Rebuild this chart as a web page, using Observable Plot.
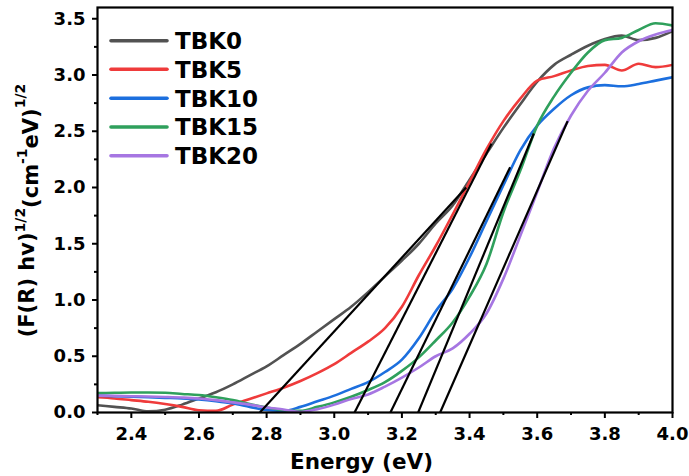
<!DOCTYPE html>
<html>
<head>
<meta charset="utf-8">
<script src="https://cdn.jsdelivr.net/npm/d3@7"></script>
<script src="https://cdn.jsdelivr.net/npm/@observablehq/plot@0.6"></script>
<style>
  html, body { margin: 0; padding: 0; background: white; }
  svg { display: block; }
</style>
</head>
<body>
<div id="chart"></div>
<script>
// ---- data ----
const energy = [2.30,2.35,2.40,2.45,2.50,2.55,2.60,2.65,2.70,2.75,2.80,2.85,2.90,2.95,3.00,3.05,3.10,3.15,3.20,3.25,3.30,3.35,3.40,3.45,3.50,3.55,3.60,3.65,3.70,3.75,3.80,3.85,3.90,3.95,4.00];
const seriesNames = ["TBK0","TBK5","TBK10","TBK15","TBK20"];
const seriesColors = ["#525252","#ef3b3b","#1c6fde","#2fa05c","#a676e2"];
const tbk0  = [0.065,0.05,0.035,0.01,0.025,0.07,0.125,0.18,0.25,0.33,0.41,0.51,0.61,0.72,0.83,0.94,1.07,1.21,1.35,1.50,1.68,1.84,2.07,2.30,2.53,2.74,2.94,3.09,3.18,3.26,3.32,3.35,3.31,3.33,3.39];
const tbk5  = [0.135,0.125,0.11,0.095,0.075,0.05,0.02,0.015,0.07,0.12,0.17,0.22,0.28,0.35,0.43,0.53,0.63,0.75,0.94,1.22,1.48,1.76,2.05,2.34,2.59,2.79,2.95,2.99,3.04,3.08,3.09,3.04,3.10,3.07,3.09];
const tbk10 = [0.15,0.145,0.14,0.135,0.13,0.125,0.115,0.10,0.08,0.05,0.022,0.015,0.05,0.10,0.15,0.21,0.27,0.36,0.47,0.66,0.90,1.10,1.38,1.70,2.02,2.33,2.55,2.70,2.82,2.89,2.91,2.90,2.92,2.95,2.98];
const tbk15 = [0.172,0.175,0.178,0.178,0.175,0.165,0.155,0.135,0.11,0.075,0.045,0.02,0.015,0.05,0.09,0.14,0.20,0.27,0.37,0.49,0.64,0.80,1.03,1.32,1.78,2.15,2.55,2.81,3.02,3.20,3.31,3.33,3.40,3.46,3.44];
const tbk20 = [0.15,0.148,0.145,0.142,0.138,0.133,0.125,0.11,0.09,0.07,0.045,0.027,0.005,0.03,0.07,0.12,0.16,0.23,0.31,0.40,0.50,0.57,0.70,0.88,1.19,1.57,1.96,2.35,2.64,2.86,3.02,3.20,3.30,3.36,3.40];
// tangent (Tauc extrapolation) lines
const tangentX1 = [2.78, 3.06, 3.166, 3.248, 3.313];
const tangentX2 = [3.39, 3.465, 3.52, 3.59, 3.69];
const tangentY2 = [2.00, 2.39, 2.18, 2.48, 2.59];
const xTicks = [2.4,2.6,2.8,3.0,3.2,3.4,3.6,3.8,4.0];
const xMinor = [2.3,2.5,2.7,2.9,3.1,3.3,3.5,3.7,3.9];
const yTicks = [0,0.5,1.0,1.5,2.0,2.5,3.0,3.5];
const yMinor = [0.25,0.75,1.25,1.75,2.25,2.75,3.25];

// ---- build tables ----
const allSeries = [tbk0, tbk5, tbk10, tbk15, tbk20];
const rows = [];
allSeries.forEach((vals, i) => vals.forEach((v, j) => rows.push({E: energy[j], v, s: seriesNames[i]})));
const tangents = tangentX1.map((x1, i) => ({x1, y1: 0, x2: tangentX2[i], y2: tangentY2[i]}));

const FONT = "DejaVu Sans, sans-serif";

const plot = Plot.plot({
  width: 689,
  height: 476,
  marginLeft: 97,
  marginRight: 17,
  marginTop: 7,
  marginBottom: 64,
  style: {fontFamily: FONT, fontWeight: "bold", fontSize: "18px", background: "white", color: "black"},
  x: {domain: [2.3, 4.0]},
  y: {domain: [0, 3.6]},
  color: {domain: seriesNames, range: seriesColors},
  marks: [
    Plot.line(rows, {x: "E", y: "v", z: "s", stroke: "s", strokeWidth: 2.6, curve: "monotone-x", clip: true}),
    Plot.link(tangents, {x1: "x1", y1: "y1", x2: "x2", y2: "y2", stroke: "black", strokeWidth: 2.2, clip: true}),
    Plot.axisX({ticks: xTicks, tickSize: 6, tickPadding: 9, strokeWidth: 2, tickFormat: d => d.toFixed(1), label: null}),
    Plot.axisX({ticks: xMinor, tickSize: 3, strokeWidth: 2, tickFormat: () => "", label: null}),
    Plot.axisY({ticks: yTicks, tickSize: 5, tickPadding: 7, strokeWidth: 2, tickFormat: d => d.toFixed(1), label: null}),
    Plot.axisY({ticks: yMinor, tickSize: 3, strokeWidth: 2, tickFormat: () => "", label: null}),
    Plot.frame({stroke: "black", strokeWidth: 2.2})
  ]
});

document.getElementById("chart").appendChild(plot);
const svg = d3.select(plot);

// x-axis title
svg.append("text")
  .attr("x", 361.5).attr("y", 469)
  .attr("text-anchor", "middle")
  .attr("font-family", FONT).attr("font-weight", "bold").attr("font-size", 21.5)
  .attr("fill", "black")
  .text("Energy (eV)");

// y-axis title with super/subscripts
const yl = svg.append("text")
  .attr("transform", "translate(34,210.5) rotate(-90)")
  .attr("text-anchor", "middle")
  .attr("font-family", FONT).attr("font-weight", "bold").attr("font-size", 21)
  .attr("fill", "black");
yl.append("tspan").text("(F(R) hv)");
yl.append("tspan").attr("font-size", 14).attr("dy", -9).text("1/2");
yl.append("tspan").attr("dy", 13).text("(cm");
yl.append("tspan").attr("font-size", 14).attr("dy", -11).text("-1");
yl.append("tspan").attr("dy", 11).text("eV)");
yl.append("tspan").attr("font-size", 14).attr("dy", -13).text("1/2");

// legend
const legendY = [40.7, 69.3, 98.3, 127, 155.7];
const lg = svg.append("g").attr("text-anchor", "start");
seriesNames.forEach((name, i) => {
  lg.append("line")
    .attr("x1", 111).attr("x2", 167)
    .attr("y1", legendY[i]).attr("y2", legendY[i])
    .attr("stroke", seriesColors[i]).attr("stroke-width", 3.6).attr("stroke-linecap", "round");
  lg.append("text")
    .attr("x", 175).attr("y", legendY[i] + 8.4)
    .attr("text-anchor", "start")
    .attr("font-family", FONT).attr("font-weight", "bold").attr("font-size", 23)
    .attr("fill", "black")
    .text(name);
});
</script>
</body>
</html>
